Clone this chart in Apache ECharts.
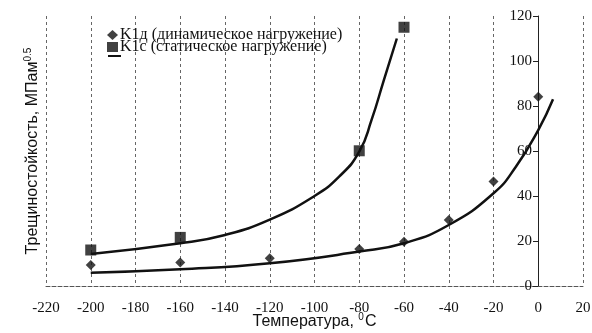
<!DOCTYPE html>
<html><head><meta charset="utf-8">
<script src="https://cdn.jsdelivr.net/npm/echarts@6/dist/echarts.min.js"></script>
<style>html,body{margin:0;padding:0;background:#fff}#c{width:592px;height:333px}</style>
</head><body><div id="c"></div>
<script>
// Data
const temps = [-200, -160, -120, -80, -60, -40, -20, 0];
const k1dValues = [9.3, 10.4, 12.3, 16.4, 19.7, 29.3, 46.4, 84.1];
const k1cTemps = [-200, -160, -80, -60];
const k1cValues = [16, 21.6, 60.1, 115];
// Fitted curves (as drawn in the reference)
const fitDX = [-200, -160, -120, -80, -60, -40, -20, -10, 0, 6.6];
const fitDY = [5.9, 7.4, 10.1, 15.3, 19, 27.1, 41.2, 53, 69.3, 83];
const fitCX = [-200, -160, -140, -120, -100, -89, -80, -74.5, -69, -63.2];
const fitCY = [14.2, 19, 22.7, 29.5, 40, 48.6, 59.7, 73.8, 91.5, 110];
const nameD = 'K1д (динамическое нагружение)';
const nameC = 'K1с (статическое нагружение)';

const zip = (a, b) => a.map((v, i) => [v, b[i]]);
const chart = echarts.init(document.getElementById('c'));
const serif = 'Liberation Serif';
chart.setOption({
  animation: false,
  backgroundColor: '#fff',
  grid: { left: 46, right: 9, top: 16, bottom: 47, outerBoundsMode: 'none', containLabel: false },
  legend: {
    orient: 'vertical', left: 107, top: 27, itemGap: -4, padding: 0,
    itemWidth: 11, itemHeight: 10,
    data: [{ name: nameD, icon: 'diamond' }, { name: nameC, icon: 'rect' }],
    textStyle: { fontFamily: serif, fontSize: 16, lineHeight: 12, color: '#111', padding: [0, 0, 0, -3] }
  },
  xAxis: {
    type: 'value', min: -220, max: 20, interval: 20,
    name: '{t|Температура, }{s|0}{t|C}', nameLocation: 'middle', nameGap: 26, nameMoveOverlap: false,
    nameTextStyle: { rich: {
      t: { fontFamily: 'Liberation Sans', fontSize: 16, color: '#111' },
      s: { fontFamily: 'Liberation Sans', fontSize: 10, color: '#111', verticalAlign: 'top', padding: [0, 1, 9, 0] }
    }},
    axisLine: { onZero: false, lineStyle: { color: '#555', type: 'dashed', width: 1 } },
    axisTick: { show: false },
    axisLabel: { fontFamily: serif, fontSize: 15, color: '#111', margin: 15 },
    splitLine: { show: true, lineStyle: { color: '#666', type: [3, 3], width: 1 } }
  },
  yAxis: {
    type: 'value', min: 0, max: 120, interval: 20, position: 'left', offset: -492,
    name: '{t|Трещиностойкость, МПам}{s|0.5}', nameLocation: 'middle', nameGap: 496, nameRotate: 90,
    nameMoveOverlap: false,
    nameTextStyle: { rich: {
      t: { fontFamily: 'Liberation Sans', fontSize: 16, color: '#111' },
      s: { fontFamily: 'Liberation Sans', fontSize: 10, color: '#111', verticalAlign: 'top', padding: [0, 0, 9, 0] }
    }},
    axisLine: { show: true, onZero: false, lineStyle: { color: '#222', width: 1 } },
    axisTick: { show: true, length: 5, lineStyle: { color: '#222' } },
    axisLabel: { fontFamily: serif, fontSize: 15, color: '#111', margin: 6 },
    splitLine: { show: false }
  },
  graphic: [{
    type: 'line', shape: { x1: 108, y1: 56, x2: 121, y2: 56 },
    style: { stroke: '#111', lineWidth: 2 }
  }],
  series: [
    { type: 'line', data: zip(fitDX, fitDY), smooth: 0.5, symbol: 'none', silent: true,
      lineStyle: { color: '#111', width: 2.5 } },
    { type: 'line', data: zip(fitCX, fitCY), smooth: 0.5, symbol: 'none', silent: true,
      lineStyle: { color: '#111', width: 2.5 } },
    { name: nameD, type: 'scatter', data: zip(temps, k1dValues), symbol: 'diamond', symbolSize: 10,
      itemStyle: { color: '#111' } },
    { name: nameC, type: 'scatter', data: zip(k1cTemps, k1cValues), symbol: 'rect', symbolSize: 11,
      itemStyle: { color: '#111' } }
  ]
});
</script></body></html>
